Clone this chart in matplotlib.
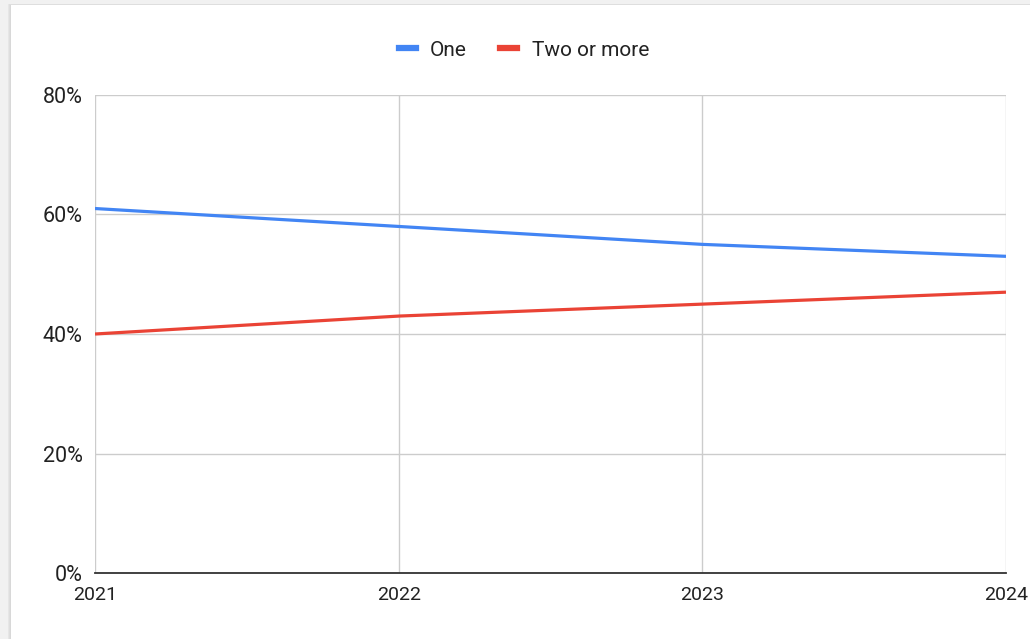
import matplotlib.pyplot as plt
from matplotlib.patches import Rectangle
from matplotlib.lines import Line2D

years = [2021, 2022, 2023, 2024]
one = [61, 58, 55, 53]
two_or_more = [40, 43, 45, 47]
y_ticks = [0, 20, 40, 60, 80]

plt.rcParams['font.family'] = ['Roboto', 'DejaVu Sans']

fig = plt.figure(figsize=(10.30, 6.39), dpi=100)
fig.patch.set_facecolor('#f1f1f1')

# white card with a soft shadow on the left and top
for i, c in enumerate(['#e6e6e6', '#dedede', '#d8d8d8']):
    off = (3 - i) / 1030
    fig.patches.append(Rectangle((11 / 1030 - off, 0), 1, 1 - 5 / 639 + off * 0.6,
                                 transform=fig.transFigure, facecolor=c,
                                 edgecolor='none', zorder=-2))
fig.patches.append(Rectangle((11 / 1030, 0), 1, 1 - 5 / 639,
                             transform=fig.transFigure, facecolor='white',
                             edgecolor='none', zorder=-1))

ax = fig.add_axes([95 / 1030, 66 / 639, 911 / 1030, 478 / 639])
ax.set_zorder(2)
ax.set_facecolor('none')

ax.plot(years, one, color='#4285F4', lw=2.3, solid_capstyle='butt', zorder=3)
ax.plot(years, two_or_more, color='#EA4335', lw=2.3, solid_capstyle='butt', zorder=3)

ax.set_xlim(2021, 2024)
ax.set_ylim(0, 80)
ax.set_xticks(years)
ax.set_xticklabels([str(y) for y in years])
ax.set_yticks(y_ticks)
ax.set_yticklabels([f'{v}%' for v in y_ticks])

ax.grid(True, color='#cccccc', lw=1)
ax.set_axisbelow(True)
for side in ['top', 'right', 'left']:
    ax.spines[side].set_visible(False)
ax.spines['bottom'].set_color('#333333')
ax.spines['bottom'].set_linewidth(1.3)
ax.spines['bottom'].set_zorder(4)

ax.tick_params(axis='both', length=0, colors='#222222')
ax.tick_params(axis='y', pad=9, labelsize=15.5)
ax.tick_params(axis='x', pad=9, labelsize=14)

handles = [Line2D([], [], color='#4285F4', lw=4.5),
           Line2D([], [], color='#EA4335', lw=4.5)]
leg = fig.legend(handles, ['One', 'Two or more'], loc='center', ncol=2,
                 bbox_to_anchor=(524 / 1030, 1 - 50 / 639), frameon=False,
                 fontsize=15, handlelength=0.8, handletextpad=0.7,
                 columnspacing=1.6, labelcolor='#222222')
leg.set_zorder(3)

fig.savefig('out.png', dpi=100, facecolor=fig.get_facecolor())
